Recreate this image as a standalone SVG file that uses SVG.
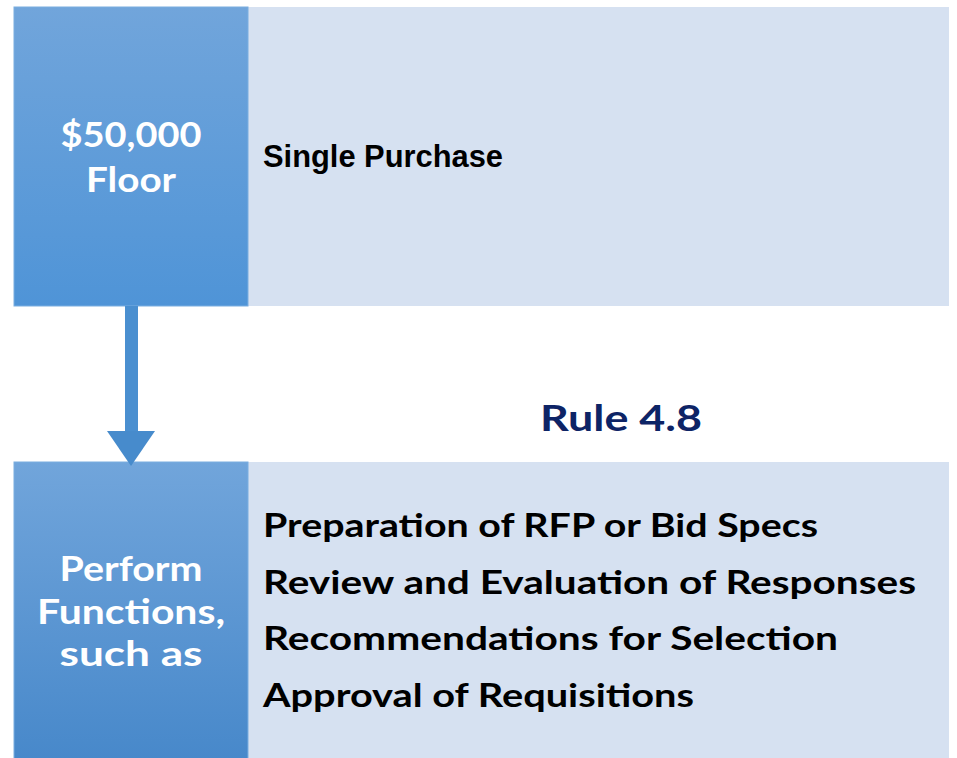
<svg xmlns="http://www.w3.org/2000/svg" width="957" height="758" viewBox="0 0 957 758">
<defs>
<linearGradient id="g1" x1="0" y1="0" x2="0" y2="1">
<stop offset="0" stop-color="#71a5db"/>
<stop offset="1" stop-color="#4f94d7"/>
</linearGradient>
<linearGradient id="g2" x1="0" y1="0" x2="0" y2="1">
<stop offset="0" stop-color="#71a5db"/>
<stop offset="1" stop-color="#4788ca"/>
</linearGradient>
<style>
.panel{fill:#d6e1f1;}
.lbl{font-family:"Lato","DejaVu Sans",sans-serif;font-weight:bold;font-size:35px;fill:#ffffff;text-anchor:middle;}
.item{font-family:"Lato","DejaVu Sans",sans-serif;font-weight:bold;font-size:33px;fill:#000000;}
.rule{font-family:"Lato","DejaVu Sans",sans-serif;font-weight:bold;font-size:37px;fill:#0d2466;}
.single{font-family:"Liberation Sans",Arial,sans-serif;font-weight:bold;font-size:31px;fill:#000000;}
</style>
</defs>
<rect width="957" height="758" fill="#ffffff"/>
<g id="panel-top">
<rect class="panel" x="246" y="7" width="703" height="299"/>
<text class="single" x="263" y="167" textLength="240" lengthAdjust="spacingAndGlyphs">Single Purchase</text>
</g>
<g id="node-floor">
<rect x="14" y="7" width="234" height="299" fill="url(#g1)" stroke="#7aaee0" stroke-width="1"/>
<text class="lbl" x="131" y="147" textLength="141" lengthAdjust="spacingAndGlyphs">$50,000</text>
<text class="lbl" x="131" y="192" textLength="90" lengthAdjust="spacingAndGlyphs">Floor</text>
</g>
<g id="rule-label">
<text class="rule" x="540" y="431" textLength="162" lengthAdjust="spacingAndGlyphs">Rule 4.8</text>
</g>
<g id="panel-bottom">
<rect class="panel" x="246" y="462" width="703" height="296"/>
<text class="item" x="263" y="537" textLength="555" lengthAdjust="spacingAndGlyphs">Preparation of RFP or Bid Specs</text>
<text class="item" x="263" y="594" textLength="653" lengthAdjust="spacingAndGlyphs">Review and Evaluation of Responses</text>
<text class="item" x="263" y="650" textLength="575" lengthAdjust="spacingAndGlyphs">Recommendations for Selection</text>
<text class="item" x="263" y="707" textLength="431" lengthAdjust="spacingAndGlyphs">Approval of Requisitions</text>
</g>
<g id="node-perform">
<rect x="14" y="462" width="234" height="300" fill="url(#g2)" stroke="#7aaee0" stroke-width="1"/>
<text class="lbl" x="131" y="581" textLength="143" lengthAdjust="spacingAndGlyphs">Perform</text>
<text class="lbl" x="131" y="624" textLength="188" lengthAdjust="spacingAndGlyphs">Functions,</text>
<text class="lbl" x="131" y="666" textLength="143" lengthAdjust="spacingAndGlyphs">such as</text>
</g>
<g id="connectors">
<rect x="125" y="306" width="13" height="126" fill="#4a8fd0"/>
<polygon points="107,431 155,431 131,466" fill="#478bcc"/>
</g>
</svg>
